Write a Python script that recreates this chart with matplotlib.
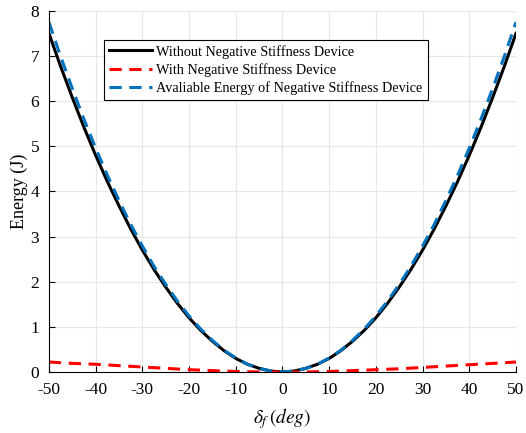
import numpy as np
import matplotlib.pyplot as plt

plt.rcParams['font.family'] = ['Liberation Serif', 'DejaVu Serif']
plt.rcParams['mathtext.fontset'] = 'stix'
plt.rcParams['axes.unicode_minus'] = False

# steering angle (deg)
delta = [-50, -47.5, -45, -42.5, -40, -37.5, -35, -32.5, -30, -27.5, -25,
         -22.5, -20, -17.5, -15, -12.5, -10, -7.5, -5, -2.5, 0,
         2.5, 5, 7.5, 10, 12.5, 15, 17.5, 20, 22.5, 25,
         27.5, 30, 32.5, 35, 37.5, 40, 42.5, 45, 47.5, 50]
# energy (J)
e_without = [7.50, 6.77, 6.08, 5.42, 4.80, 4.22, 3.68, 3.17, 2.70, 2.27, 1.88,
             1.52, 1.20, 0.92, 0.68, 0.47, 0.30, 0.17, 0.08, 0.02, 0.0,
             0.02, 0.08, 0.17, 0.30, 0.47, 0.68, 0.92, 1.20, 1.52, 1.88,
             2.27, 2.70, 3.17, 3.68, 4.22, 4.80, 5.42, 6.08, 6.77, 7.50]
e_with = [0.22, 0.205, 0.19, 0.18, 0.17, 0.155, 0.14, 0.125, 0.11, 0.095, 0.08,
          0.065, 0.05, 0.04, 0.03, 0.02, 0.01, 0.005, 0.0, 0.0, 0.0,
          0.0, 0.0, 0.005, 0.01, 0.02, 0.03, 0.04, 0.05, 0.06, 0.07,
          0.085, 0.10, 0.115, 0.13, 0.145, 0.16, 0.175, 0.19, 0.205, 0.22]
e_avail = [7.75, 6.99, 6.28, 5.60, 4.96, 4.36, 3.80, 3.27, 2.79, 2.34, 1.94,
           1.57, 1.24, 0.95, 0.70, 0.48, 0.31, 0.17, 0.08, 0.02, 0.0,
           0.02, 0.08, 0.17, 0.31, 0.48, 0.70, 0.95, 1.24, 1.57, 1.94,
           2.34, 2.79, 3.27, 3.80, 4.36, 4.96, 5.60, 6.28, 6.99, 7.75]

fig = plt.figure(figsize=(5.26, 4.33), dpi=100)
ax = fig.add_axes([0.093, 0.141, 0.888, 0.834])

ax.plot(delta, e_without, color='black', lw=2.2, label='Without Negative Stiffness Device')
ax.plot(delta, e_with, color='red', lw=2.2, dashes=(4, 2.5), label='With Negative Stiffness Device')
ax.plot(delta, e_avail, color='#0072BD', lw=2.2, dashes=(4, 2.5),
        label='Avaliable Energy of Negative Stiffness Device')

ax.set_xlim(-50, 50)
ax.set_ylim(0, 8)
ax.set_xticks(np.arange(-50, 51, 10))
ax.set_yticks(np.arange(0, 9, 1))
ax.grid(True, color='#e6e6e6', lw=0.8)
ax.set_axisbelow(True)
ax.spines['top'].set_visible(False)
ax.spines['right'].set_visible(False)
ax.tick_params(direction='in', length=4, labelsize=12.5, width=0.8, pad=7)
ax.set_ylabel('Energy (J)', fontsize=13, labelpad=2)
ax.set_xlabel(r'$\delta_f\,(deg)$', fontsize=14, labelpad=6)

leg = ax.legend(loc='upper left', bbox_to_anchor=(0.118, 0.92), borderaxespad=0,
                fontsize=10.3, frameon=True, fancybox=False, edgecolor='black',
                framealpha=1, handlelength=3.0, borderpad=0.35, labelspacing=0.3,
                handletextpad=0.3)
leg.get_frame().set_linewidth(0.8)

fig.savefig('out.png', dpi=100)
